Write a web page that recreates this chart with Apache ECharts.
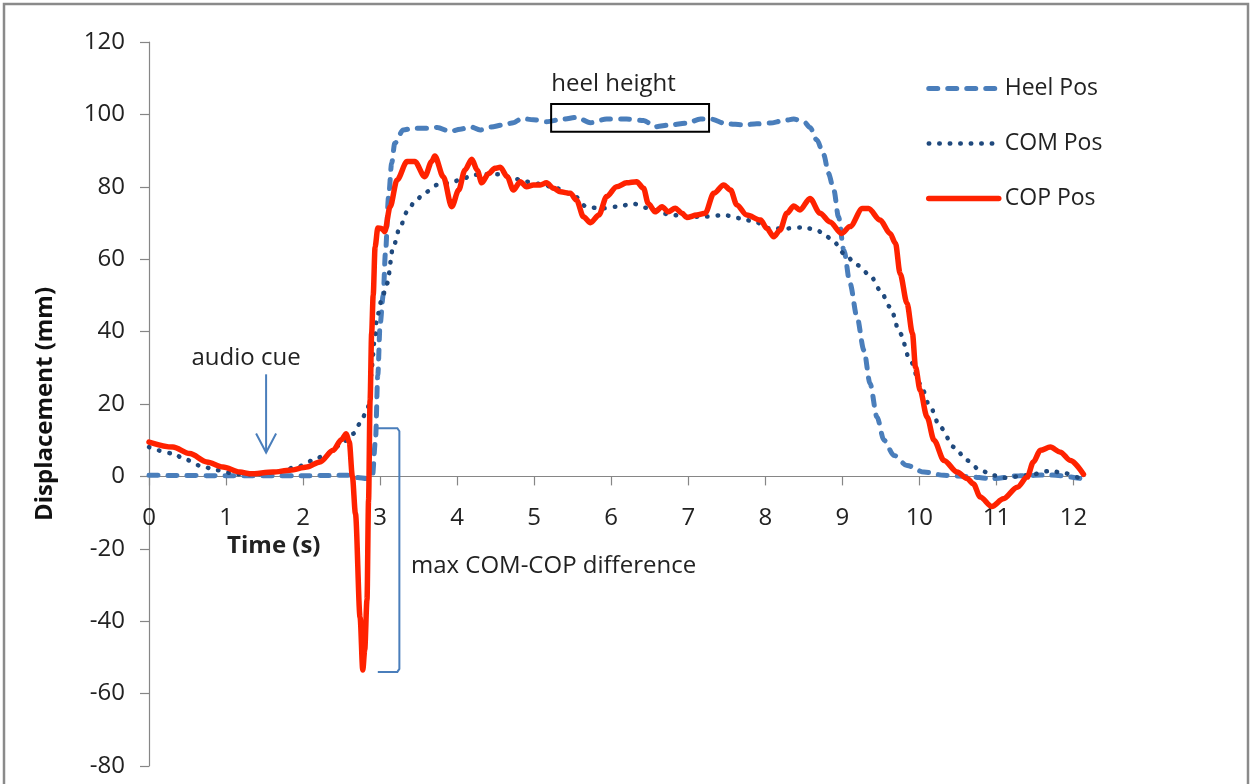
<!DOCTYPE html>
<html><head><meta charset="utf-8">
<script src="https://cdn.jsdelivr.net/npm/echarts@6/dist/echarts.min.js"></script>
<style>html,body{margin:0;padding:0;background:#fff}#c{width:1253px;height:784px}</style>
</head><body><div id="c"></div>
<script>
// ---- data (time in s, displacement in mm) ----
const heelT = [0,1,2,2.6,2.7,2.83,2.9,2.94,2.97,3.0,3.04,3.07,3.11,3.15,3.19,3.30,3.43,3.61,3.74,3.91,4.04,4.17,4.30,4.43,4.60,4.73,4.84,4.99,5.16,5.38,5.55,5.73,5.94,6.20,6.42,6.57,6.77,6.98,7.16,7.29,7.50,7.72,7.89,8.06,8.24,8.37,8.50,8.58,8.67,8.76,8.82,8.89,8.95,9.02,9.10,9.19,9.28,9.36,9.45,9.54,9.67,9.84,10.06,10.32,10.6,10.95,11.3,11.7,12.1];
const heelV = [0.3,0.2,0.2,0.3,-0.3,-0.6,0,10,28,42,50,62,77.3,86.5,92,95.7,96.2,96.2,96.4,95.3,95.9,96.6,95.7,96.5,97.1,97.7,98.9,98.5,98,98.7,99.2,97.7,98.7,98.7,98.3,96.6,97.1,97.6,98.7,98.7,97.4,97.1,97.4,97.6,98.3,98.7,98,96.4,92.9,88.8,83.7,79.1,71.7,62.5,53.3,44.1,34.9,25.6,16.4,10,5.8,3,1.2,0.3,0,-0.6,0.2,0.4,-0.6];

const comT = [0,0.32,0.45,0.66,0.88,1.14,1.40,1.66,1.92,2.13,2.31,2.48,2.65,2.74,2.83,2.87,2.89,2.93,2.96,3.02,3.09,3.17,3.26,3.35,3.45,3.58,3.74,3.89,4.04,4.21,4.38,4.56,4.73,4.90,5.08,5.29,5.51,5.68,5.86,6.07,6.29,6.46,6.72,6.98,7.24,7.46,7.68,7.89,8.06,8.28,8.50,8.67,8.80,8.89,9.02,9.19,9.36,9.49,9.62,9.75,9.88,10.01,10.14,10.27,10.45,10.62,10.79,10.96,11.1,11.4,11.7,11.9,12.1];
const comV = [8.1,6.3,4.9,3.0,1.7,0.6,0.6,1.2,2.6,4.4,6.3,8.6,11.8,14.6,18.3,21,30,38,44,48.7,53.3,63.4,69,73.1,75.9,78.4,80.5,81,81.9,83.3,83.5,83.5,82.3,81.4,80.8,79.6,77.7,74.5,74,74.5,75.3,74.2,72.5,71.7,71.8,72.2,71.3,70.1,68.5,68.5,68.8,68,66.2,64.8,61.6,58.4,55.6,51.5,46.8,39.5,32.1,25.6,19.2,13.6,8.1,4.4,1.7,0.3,-0.4,0.3,1.5,0.8,-0.8];

const copT = [0,0.31,0.53,0.75,0.96,1.18,1.31,1.61,1.83,2.05,2.22,2.39,2.50,2.56,2.60,2.64,2.68,2.74,2.775,2.80,2.83,2.85,2.87,2.89,2.91,2.935,2.97,3.02,3.06,3.13,3.22,3.35,3.45,3.58,3.67,3.71,3.82,3.93,4.02,4.10,4.19,4.26,4.32,4.41,4.49,4.56,4.65,4.73,4.82,4.90,4.99,5.08,5.16,5.25,5.34,5.47,5.55,5.64,5.73,5.84,5.94,6.07,6.20,6.33,6.42,6.48,6.57,6.66,6.74,6.83,6.92,6.98,7.11,7.22,7.33,7.46,7.55,7.63,7.76,7.94,8.02,8.11,8.19,8.28,8.37,8.45,8.58,8.71,8.84,8.99,9.10,9.26,9.34,9.49,9.62,9.69,9.75,9.84,9.91,9.95,10.01,10.10,10.19,10.32,10.49,10.62,10.70,10.79,10.94,11.09,11.27,11.40,11.48,11.57,11.70,11.83,11.96,12.13];
const copV = [9.5,8.1,6.3,4.0,2.6,1.2,0.7,1.2,1.7,2.6,4.0,7.2,10.2,11.8,9.5,0,-10.3,-38.9,-53.5,-48,-34,-6.6,21,39.5,50,63.4,68.6,68.5,67.6,74.5,81.9,87,87,82.8,87,88.5,82.8,74.5,79.1,84.6,87.6,84.6,81.1,83.7,85.1,85.4,82.8,79.1,81.4,80,80.5,80.5,81.1,79.6,78.6,78.2,76.3,71.7,70.1,72.2,77.3,80,81.1,81.4,79.6,75.4,73.1,74.5,73.1,74.1,72.7,71.5,72.2,72.7,78.2,80.5,79.1,75,72.2,70.8,68.5,66.2,68,72.7,74.7,73.6,76.8,72.7,70.3,67.1,69,74,74,70.8,67.1,64.4,56,47.8,39.5,30.2,23.8,16.4,10,4.4,1.2,-0.6,-2,-5.7,-8.3,-6.2,-3,-0.2,4,7.2,8.1,6.7,4.4,0.6];

const seriesNames = ['Heel Pos','COM Pos','COP Pos'];
const xTicks = [0,1,2,3,4,5,6,7,8,9,10,11,12];
const yTicks = [-80,-60,-40,-20,0,20,40,60,80,100,120];

// annotation anchors in data space [t, v]
const heelLabelAt = [6.03, 108.4];
const heelBox = [[5.22, 102.9],[7.27, 95.2]];
const audioLabelAt = [1.26, 32.6];
const audioArrow = [[1.52, 28.2],[1.52, 6.6]];
const bracket = [[2.97, 13.3],[3.25, -54]];
const diffLabelAt = [3.40, -24.9];
const timeTitleAt = [1.62, -19.2];

const zip = (a,b) => a.map((t,i)=>[t,b[i]]);
const FONT = '"Open Sans", sans-serif';
const BLUE = '#4A7EBB', NAVY = '#1F497D', RED = '#FF2200', AX = '#868686';
const heelLine = {color:BLUE, width:5, type:[9,10], cap:'round'};
const comLine = {color:NAVY, width:4.5, type:[0.5,10], cap:'round'};
const copLine = {color:RED, width:5.5, type:'solid', cap:'round', join:'round'};

const chart = echarts.init(document.getElementById('c'), null, {renderer:'canvas'});
const baseOption = {
  animation:false,
  backgroundColor:'#fff',
  grid:{left:149, right:168, top:42, bottom:18, containLabel:false, outerBoundsMode:'none'},
  legend:{
    orient:'vertical', left:921, top:72, itemWidth:70, itemHeight:20, itemGap:32,
    data:[
      {name:seriesNames[0], lineStyle:heelLine, itemStyle:{opacity:0}},
      {name:seriesNames[1], lineStyle:comLine, itemStyle:{opacity:0}},
      {name:seriesNames[2], lineStyle:copLine, itemStyle:{opacity:0}}
    ],
    textStyle:{fontFamily:FONT, fontSize:23, color:'#222', padding:[0,0,0,1]}
  },
  xAxis:{
    type:'value', min:0, max:12.15, interval:1, position:'bottom', offset:0,
    axisLine:{onZero:false, lineStyle:{color:AX, width:1.2}},
    axisTick:{show:true, length:9, customValues:xTicks, lineStyle:{color:AX, width:1.2}},
    axisLabel:{fontFamily:FONT, fontSize:24, color:'#222', margin:30, customValues:xTicks,
      formatter:v=> xTicks.includes(v)? String(v):''},
    splitLine:{show:false}
  },
  yAxis:{
    type:'value', min:-80, max:120, interval:20,
    axisLine:{show:true, lineStyle:{color:AX, width:1.2}},
    axisTick:{show:true, length:9, lineStyle:{color:AX, width:1.2}},
    axisLabel:{fontFamily:FONT, fontSize:24, color:'#222', margin:24,
      formatter:v=> yTicks.includes(v)? String(v):''},
    splitLine:{show:false}
  },
  series:[
    {name:seriesNames[0], type:'line', data:zip(heelT,heelV), showSymbol:false, symbol:'none',
      smooth:0.3, smoothMonotone:'x', lineStyle:heelLine, itemStyle:{color:BLUE}, z:2},
    {name:seriesNames[1], type:'line', data:zip(comT,comV), showSymbol:false, symbol:'none',
      smooth:0.3, smoothMonotone:'x', lineStyle:comLine, itemStyle:{color:NAVY}, z:3},
    {name:seriesNames[2], type:'line', data:zip(copT,copV), showSymbol:false, symbol:'none',
      smooth:0.3, smoothMonotone:'x', lineStyle:copLine, itemStyle:{color:RED}, z:4}
  ]
};
chart.setOption(baseOption);

const P = p => chart.convertToPixel({gridIndex:0}, p);
// move the x axis up to the y = 0 line
const zeroOffset = P([0,0])[1] - P([0,-80])[1];
chart.setOption({xAxis:{offset:zeroOffset}});

const txt = (p, s, opts) => Object.assign({type:'text', x:p[0], y:p[1], z:10,
  style:Object.assign({text:s, font:'24px '+FONT, fill:'#222', textAlign:'center', textVerticalAlign:'middle', align:'center', verticalAlign:'middle'}, opts||{})});

const b0 = P(heelBox[0]), b1 = P(heelBox[1]);
const a0 = P(audioArrow[0]), a1 = P(audioArrow[1]);
const k0 = P(bracket[0]), k1 = P(bracket[1]);
const tt = P(timeTitleAt);

chart.setOption({graphic:[
  {type:'rect', z:20, silent:true, shape:{x:4, y:4, width:1244, height:800},
    style:{fill:'none', stroke:'#8a8a8a', lineWidth:2.5}},
  txt(P(heelLabelAt), 'heel height'),
  {type:'rect', z:10, shape:{x:b0[0], y:b0[1], width:b1[0]-b0[0], height:b1[1]-b0[1]},
    style:{fill:'none', stroke:'#000', lineWidth:2}},
  txt(P(audioLabelAt), 'audio cue'),
  {type:'line', z:10, shape:{x1:a0[0], y1:a0[1], x2:a1[0], y2:a1[1]}, style:{stroke:BLUE, lineWidth:2}},
  {type:'polyline', z:10, shape:{points:[[a1[0]-10,a1[1]-19],[a1[0],a1[1]],[a1[0]+10,a1[1]-19]]}, style:{stroke:BLUE, lineWidth:2, fill:'none'}},
  {type:'polyline', z:10, shape:{points:[[k0[0],k0[1]],[k1[0]-2,k0[1]],[k1[0],k0[1]+3],[k1[0],k1[1]-3],[k1[0]-2,k1[1]],[k0[0],k1[1]]]}, style:{stroke:BLUE, lineWidth:2, fill:'none'}},
  txt(P(diffLabelAt), 'max COM-COP difference', {textAlign:'left', align:'left'}),
  txt(tt, 'Time (s)', {font:'bold 24px '+FONT}),
  {type:'text', x:45, y:404, rotation:Math.PI/2, z:10,
    style:{text:'Displacement (mm)', font:'bold 24px '+FONT, fill:'#111', textAlign:'center', textVerticalAlign:'middle', align:'center', verticalAlign:'middle'}}
]});
</script></body></html>
